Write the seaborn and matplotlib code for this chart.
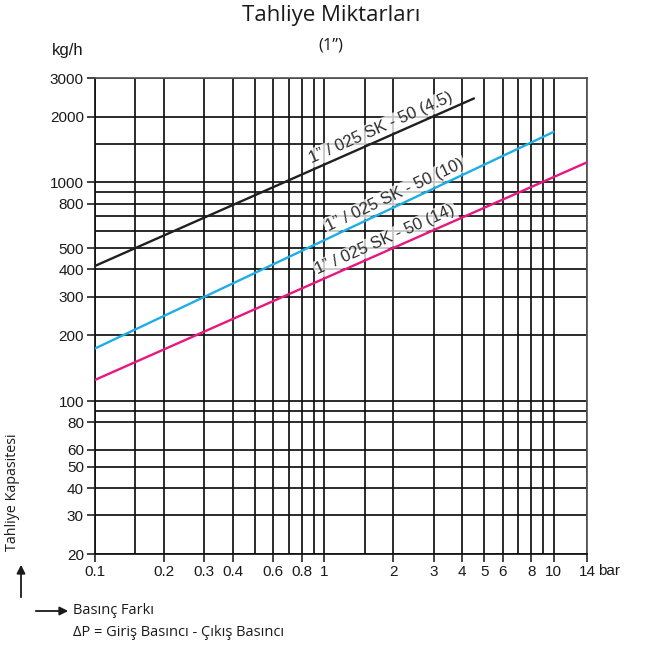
import numpy as np
import pandas as pd
import matplotlib
matplotlib.use("Agg")
import matplotlib.pyplot as plt
import seaborn as sns

# --- data (log-log straight lines) ---
series_names = ["1\u201d / 025 SK - 50 (4.5)", "1\u201d / 025 SK - 50 (10)", "1\u201d / 025 SK - 50 (14)"]
dp_black = [0.1, 4.5]
kg_black = [415, 2420]
dp_blue = [0.1, 10]
kg_blue = [174, 1700]
dp_magenta = [0.1, 14]
kg_magenta = [125, 1235]
label_x = [1.83, 2.1, 1.9]   # where each line label sits (bar)
line_colors = ["#231f20", "#1eaee6", "#e8177f"]

x_ticks = [0.1, 0.2, 0.3, 0.4, 0.6, 0.8, 1, 2, 3, 4, 5, 6, 8, 10, 14]
x_tick_labels = ["0.1", "0.2", "0.3", "0.4", "0.6", "0.8", "1", "2", "3", "4", "5", "6", "8", "10", "14"]
x_grid_extra = [0.15, 0.5, 0.7, 0.9, 1.5, 7, 9]
y_ticks = [20, 30, 40, 50, 60, 80, 100, 200, 300, 400, 500, 800, 1000, 2000, 3000]
y_grid_extra = [90, 600, 700, 900, 1500]

df = pd.DataFrame({
    "dp": dp_black + dp_blue + dp_magenta,
    "kg": kg_black + kg_blue + kg_magenta,
    "seri": [series_names[0]] * len(dp_black) + [series_names[1]] * len(dp_blue)
            + [series_names[2]] * len(dp_magenta),
})

sns.set_style("white")
plt.rcParams["font.family"] = ["Liberation Sans", "DejaVu Sans"]
humanist = ["Open Sans", "DejaVu Sans"]

fig = plt.figure(figsize=(6.46, 6.46), dpi=100)
ax = fig.add_axes([95 / 646, 92 / 646, 492 / 646, 476 / 646])

ax.set_xscale("log")
ax.set_yscale("log")
ax.set_xlim(0.1, 14)
ax.set_ylim(20, 3000)

# grid: labelled positions as major, the rest as minor without ticks
ax.set_xticks(x_ticks)
ax.set_xticklabels(x_tick_labels)
ax.set_xticks(x_grid_extra, minor=True)
ax.set_yticks(y_ticks)
ax.set_yticklabels([str(v) for v in y_ticks])
ax.set_yticks(y_grid_extra, minor=True)
ax.set_xticklabels([], minor=True)
ax.set_yticklabels([], minor=True)
ax.grid(True, which="both", color="#111111", linewidth=1.25)
ax.set_axisbelow(True)

ax.tick_params(axis="both", which="major", direction="out", length=6, width=1.1,
               color="#111111", labelsize=11, labelcolor="#1a1a1a", pad=2,
               bottom=True, left=True)
ax.tick_params(axis="both", which="minor", length=0)

for side in ["left", "bottom"]:
    ax.spines[side].set_color("#111111")
    ax.spines[side].set_linewidth(1.25)
for side in ["top", "right"]:
    ax.spines[side].set_color("#555555")
    ax.spines[side].set_linewidth(1.25)

sns.lineplot(data=df, x="dp", y="kg", hue="seri", palette=line_colors,
             linewidth=1.7, legend=False, ax=ax, zorder=3)
ax.set_xlabel("")
ax.set_ylabel("")

# labels along the lines, just above each line
fig.canvas.draw()
for name, xs, ys, lx in zip(series_names, [dp_black, dp_blue, dp_magenta],
                             [kg_black, kg_blue, kg_magenta], label_x):
    ly = 10 ** np.interp(np.log10(lx), np.log10(xs), np.log10(ys))
    p0 = ax.transData.transform((xs[0], ys[0]))
    p1 = ax.transData.transform((xs[-1], ys[-1]))
    ang = np.degrees(np.arctan2(p1[1] - p0[1], p1[0] - p0[0]))
    ax.annotate(name, (lx, ly), xytext=(0, 2.5), textcoords="offset points",
                rotation=ang, rotation_mode="anchor", ha="center", va="bottom",
                fontsize=12, color="#2b2b2b", zorder=2.5,
                bbox=dict(boxstyle="square,pad=0.1", fc="white", ec="none", alpha=0.75))

ax.text(1.022, -0.035, "bar", transform=ax.transAxes, ha="left", va="center",
        fontsize=11, color="#1a1a1a")

# titles and notes
fig.text(331 / 646, 1 - 15 / 646, "Tahliye Miktarlar\u0131", ha="center", va="center",
         fontsize=16, family=humanist, color="#1a1a1a")
fig.text(331 / 646, 1 - 45 / 646, "(1\u201d)", ha="center", va="center",
         fontsize=12, family=humanist, color="#1a1a1a")
fig.text(52 / 646, 1 - 50 / 646, "kg/h", ha="left", va="center",
         fontsize=12, color="#1a1a1a")

fig.text(13 / 646, 1 - 492 / 646, "Tahliye Kapasitesi", rotation=90, ha="center",
         va="center", fontsize=10.3, family=humanist, color="#1a1a1a")
fig.add_artist(matplotlib.patches.FancyArrowPatch(
    (21 / 646, 1 - 600 / 646), (21 / 646, 1 - 562 / 646), transform=fig.transFigure,
    arrowstyle="-|>,head_length=5,head_width=2.5", color="#1a1a1a", lw=1.3))
fig.add_artist(matplotlib.patches.FancyArrowPatch(
    (33 / 646, 1 - 611 / 646), (71 / 646, 1 - 611 / 646), transform=fig.transFigure,
    arrowstyle="-|>,head_length=5,head_width=2.5", color="#1a1a1a", lw=1.3))
fig.text(73 / 646, 1 - 611 / 646, "Bas\u0131n\u00e7 Fark\u0131", ha="left", va="center",
         fontsize=10.5, family=humanist, color="#1a1a1a")
fig.text(73 / 646, 1 - 632 / 646, "\u0394P = Giri\u015f Bas\u0131nc\u0131 - \u00c7\u0131k\u0131\u015f Bas\u0131nc\u0131",
         ha="left", va="center", fontsize=10.5, family=humanist, color="#1a1a1a")

fig.savefig("out.png", dpi=100)
